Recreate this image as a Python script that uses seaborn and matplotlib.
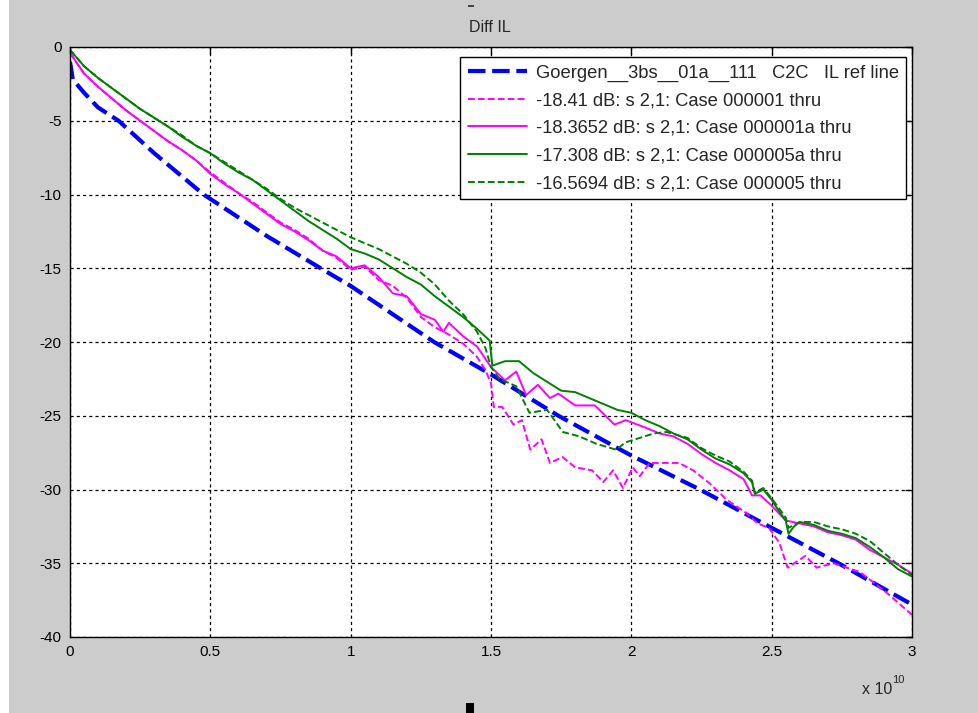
import numpy as np
import pandas as pd
import matplotlib
matplotlib.use("Agg")
import matplotlib.pyplot as plt
import seaborn as sns
from matplotlib.patches import Rectangle

# ---------------- data (frequency in units of 1e10 Hz, value in dB) ----------------
ref_f = [0, 0.01, 0.05, 0.1, 0.173, 0.3, 0.476, 0.7, 0.893, 1.0, 1.297, 1.5, 1.74,
         2.0, 2.244, 2.5, 2.738, 3.0]
ref_db = [-1.0, -2.2, -3.1, -4.1, -5.0, -7.2, -10.0, -12.8, -15.0, -16.2, -20.0, -22.2,
          -25.0, -27.7, -30.0, -32.6, -35.0, -37.8]

c1_f = [0, 0.05, 0.1, 0.15, 0.2, 0.25, 0.3, 0.35, 0.4, 0.45, 0.5, 0.55, 0.6, 0.65, 0.7,
        0.75, 0.8, 0.85, 0.9, 0.95, 1.0, 1.05, 1.1, 1.15, 1.2, 1.25, 1.3, 1.35, 1.4, 1.45,
        1.48, 1.5, 1.51, 1.54, 1.58, 1.61, 1.64, 1.68, 1.71, 1.755, 1.8, 1.86, 1.9, 1.935,
        1.97, 2.005, 2.03, 2.065, 2.125, 2.17, 2.22, 2.28, 2.34, 2.41, 2.45, 2.49, 2.527,
        2.557, 2.62, 2.66, 2.72, 2.815, 2.91, 3.0]
c1_db = [-0.4, -1.8, -2.7, -3.5, -4.3, -5.0, -5.7, -6.4, -7.0, -7.7, -8.5, -9.2, -9.9,
         -10.5, -11.2, -11.9, -12.4, -13.0, -13.8, -14.3, -15.1, -14.9, -15.8, -16.2,
         -17.0, -18.3, -19.0, -19.5, -20.1, -21.0, -21.9, -22.8, -24.4, -24.4, -25.6,
         -25.3, -27.3, -26.6, -28.2, -27.8, -28.5, -28.7, -29.5, -28.7, -29.9, -28.5,
         -29.1, -28.2, -28.2, -28.2, -28.7, -29.6, -30.7, -31.6, -32.3, -32.6, -33.6,
         -35.3, -34.5, -35.3, -35.0, -35.6, -37.0, -38.5]

c1a_f = [0, 0.05, 0.1, 0.15, 0.2, 0.25, 0.3, 0.35, 0.4, 0.45, 0.5, 0.55, 0.6, 0.65, 0.7,
         0.75, 0.8, 0.85, 0.9, 0.95, 1.0, 1.05, 1.1, 1.15, 1.2, 1.25, 1.3, 1.33, 1.35, 1.4,
         1.45, 1.5, 1.55, 1.59, 1.625, 1.667, 1.71, 1.74, 1.8, 1.87, 1.94, 1.98, 2.05, 2.1,
         2.15, 2.2, 2.25, 2.3, 2.35, 2.4, 2.43, 2.46, 2.5, 2.55, 2.6, 2.65, 2.7, 2.75, 2.8,
         2.85, 2.9, 2.95, 3.0]
c1a_db = [-0.4, -1.8, -2.7, -3.5, -4.3, -5.0, -5.7, -6.4, -7.0, -7.7, -8.6, -9.3, -9.9,
          -10.6, -11.3, -12.0, -12.5, -13.1, -13.8, -14.2, -15.0, -14.8, -15.6, -16.7,
          -16.9, -18.1, -18.5, -19.3, -18.7, -19.6, -20.3, -21.7, -22.6, -22.0, -23.6,
          -22.9, -23.8, -23.5, -24.3, -24.3, -25.6, -25.3, -25.8, -26.2, -26.4, -26.9,
          -27.6, -28.2, -28.7, -29.3, -30.4, -30.4, -31.1, -32.1, -32.3, -32.5, -32.9,
          -33.1, -33.4, -34.1, -34.6, -35.1, -35.7]

c5a_f = [0, 0.05, 0.1, 0.15, 0.2, 0.25, 0.3, 0.35, 0.4, 0.45, 0.5, 0.55, 0.6, 0.65, 0.7,
         0.75, 0.8, 0.85, 0.9, 0.95, 1.0, 1.05, 1.1, 1.15, 1.2, 1.25, 1.3, 1.35, 1.4, 1.45,
         1.495, 1.505, 1.55, 1.6, 1.65, 1.7, 1.75, 1.8, 1.85, 1.9, 1.95, 2.0, 2.05, 2.1,
         2.15, 2.2, 2.25, 2.3, 2.35, 2.4, 2.43, 2.44, 2.47, 2.5, 2.52, 2.55, 2.56, 2.58,
         2.6, 2.65, 2.7, 2.75, 2.8, 2.85, 2.9, 2.95, 3.0]
c5a_db = [-0.2, -1.3, -2.1, -2.8, -3.5, -4.2, -4.8, -5.4, -6.1, -6.7, -7.2, -7.9, -8.5,
          -9.0, -9.7, -10.4, -11.1, -11.8, -12.4, -13.0, -13.7, -14.0, -14.4, -15.0,
          -15.6, -16.1, -16.9, -17.6, -18.3, -19.1, -19.9, -21.6, -21.3, -21.3, -22.1,
          -22.7, -23.3, -23.4, -23.8, -24.2, -24.6, -24.8, -25.3, -25.7, -26.2, -26.6,
          -27.3, -27.9, -28.3, -28.9, -29.5, -30.3, -30.0, -30.7, -31.3, -32.1, -33.0,
          -32.5, -32.2, -32.4, -32.8, -33.0, -33.3, -33.9, -34.6, -35.4, -35.9]

c5_f = [0, 0.05, 0.1, 0.15, 0.2, 0.25, 0.3, 0.35, 0.4, 0.45, 0.5, 0.55, 0.6, 0.65, 0.7,
        0.75, 0.8, 0.85, 0.9, 0.95, 1.0, 1.05, 1.1, 1.15, 1.2, 1.25, 1.3, 1.35, 1.4, 1.45,
        1.48, 1.5, 1.53, 1.59, 1.637, 1.7, 1.756, 1.815, 1.875, 1.946, 1.98, 2.03, 2.08,
        2.125, 2.2, 2.25, 2.3, 2.35, 2.4, 2.43, 2.44, 2.47, 2.5, 2.55, 2.56, 2.6, 2.65,
        2.7, 2.75, 2.8, 2.85, 2.9, 2.95, 3.0]
c5_db = [-0.2, -1.3, -2.1, -2.8, -3.5, -4.2, -4.8, -5.4, -6.0, -6.7, -7.2, -7.8, -8.4,
         -9.0, -9.6, -10.3, -10.9, -11.4, -11.9, -12.4, -12.9, -13.3, -13.7, -14.2, -14.7,
         -15.3, -16.1, -17.2, -18.1, -19.3, -20.4, -21.7, -22.5, -23.0, -24.8, -24.6,
         -26.1, -26.4, -26.9, -27.3, -26.8, -26.5, -26.2, -26.1, -26.5, -27.2, -27.7,
         -28.1, -28.8, -29.4, -30.2, -29.9, -30.6, -31.9, -32.6, -32.2, -32.2, -32.5,
         -32.7, -33.0, -33.5, -34.3, -35.1, -35.8]

labels = ["Goergen__3bs__01a__111   C2C   IL ref line",
          "-18.41 dB: s 2,1: Case 000001 thru",
          "-18.3652 dB: s 2,1: Case 000001a thru",
          "-17.308 dB: s 2,1: Case 000005a thru",
          "-16.5694 dB: s 2,1: Case 000005 thru"]
x_ticks = [0, 0.5, 1, 1.5, 2, 2.5, 3]
x_tick_labels = ["0", "0.5", "1", "1.5", "2", "2.5", "3"]
y_ticks = [-40, -35, -30, -25, -20, -15, -10, -5, 0]

# ---------------- styling ----------------
sns.set_theme(style="white")
plt.rcParams['font.family'] = ['Liberation Sans', 'DejaVu Sans']

W, H = 979, 713
fig = plt.figure(figsize=(W / 100, H / 100), dpi=100, facecolor='#cccccc')
ax = fig.add_axes([70 / W, 1 - 637 / H, (912 - 70) / W, (637 - 47) / H])
ax.set_facecolor('white')

series = [
    (ref_f, ref_db, '#0000ff', 3.0, (0, (4.2, 1.6))),
    (c1_f, c1_db, '#ff00ff', 1.4, (0, (3.5, 1.6))),
    (c1a_f, c1a_db, '#ff00ff', 1.4, '-'),
    (c5a_f, c5a_db, '#008000', 1.4, '-'),
    (c5_f, c5_db, '#008000', 1.4, (0, (3.5, 1.6))),
]
for (fx, fy, col, lw, ls), lab in zip(series, labels):
    df = pd.DataFrame({"f": fx, "dB": fy})
    sns.lineplot(data=df, x="f", y="dB", ax=ax, color=col, linewidth=lw,
                 linestyle=ls, label=lab, estimator=None, sort=False)

ax.set_xlim(0, 3)
ax.set_ylim(-40, 0)
ax.set_xticks(x_ticks)
ax.set_xticklabels(x_tick_labels)
ax.set_yticks(y_ticks)
ax.set_yticklabels([str(v) for v in y_ticks])
ax.set_xlabel("")
ax.set_ylabel("")
ax.grid(True, color='black', linestyle=(0, (2.5, 2.5)), linewidth=0.9)
ax.tick_params(direction='in', top=True, right=True, length=5, width=1,
               labelsize=11, colors='black', pad=6)
for s in ax.spines.values():
    s.set_color('black')
    s.set_linewidth(1.0)
    s.set_visible(True)

leg = ax.legend(loc='upper right', bbox_to_anchor=(0.993, 0.983), borderaxespad=0,
                fontsize=13.2, handlelength=3.25, labelspacing=0.58, handletextpad=0.45,
                borderpad=0.4, fancybox=False, framealpha=1, edgecolor='black')
leg.get_frame().set_linewidth(1.0)

fig.text(490 / W, 1 - 27 / H, "Diff IL", ha='center', va='center', fontsize=11.5)
fig.text(862 / W, 1 - 690 / H, "x 10", ha='left', va='center', fontsize=11.5)
fig.text(892 / W, 1 - 680 / H, "10", ha='left', va='center', fontsize=8)

# screenshot edge artifacts
fig.patches.append(Rectangle((0, 0), 9 / W, 1, transform=fig.transFigure,
                             facecolor='white', edgecolor='none'))
fig.patches.append(Rectangle((466 / W, 0), 8 / W, 10 / H, transform=fig.transFigure,
                             facecolor='black', edgecolor='none'))
fig.patches.append(Rectangle((468 / W, 1 - 7 / H), 6 / W, 2 / H, transform=fig.transFigure,
                             facecolor='#444444', edgecolor='none'))

fig.savefig("out.png", dpi=100, facecolor=fig.get_facecolor())
